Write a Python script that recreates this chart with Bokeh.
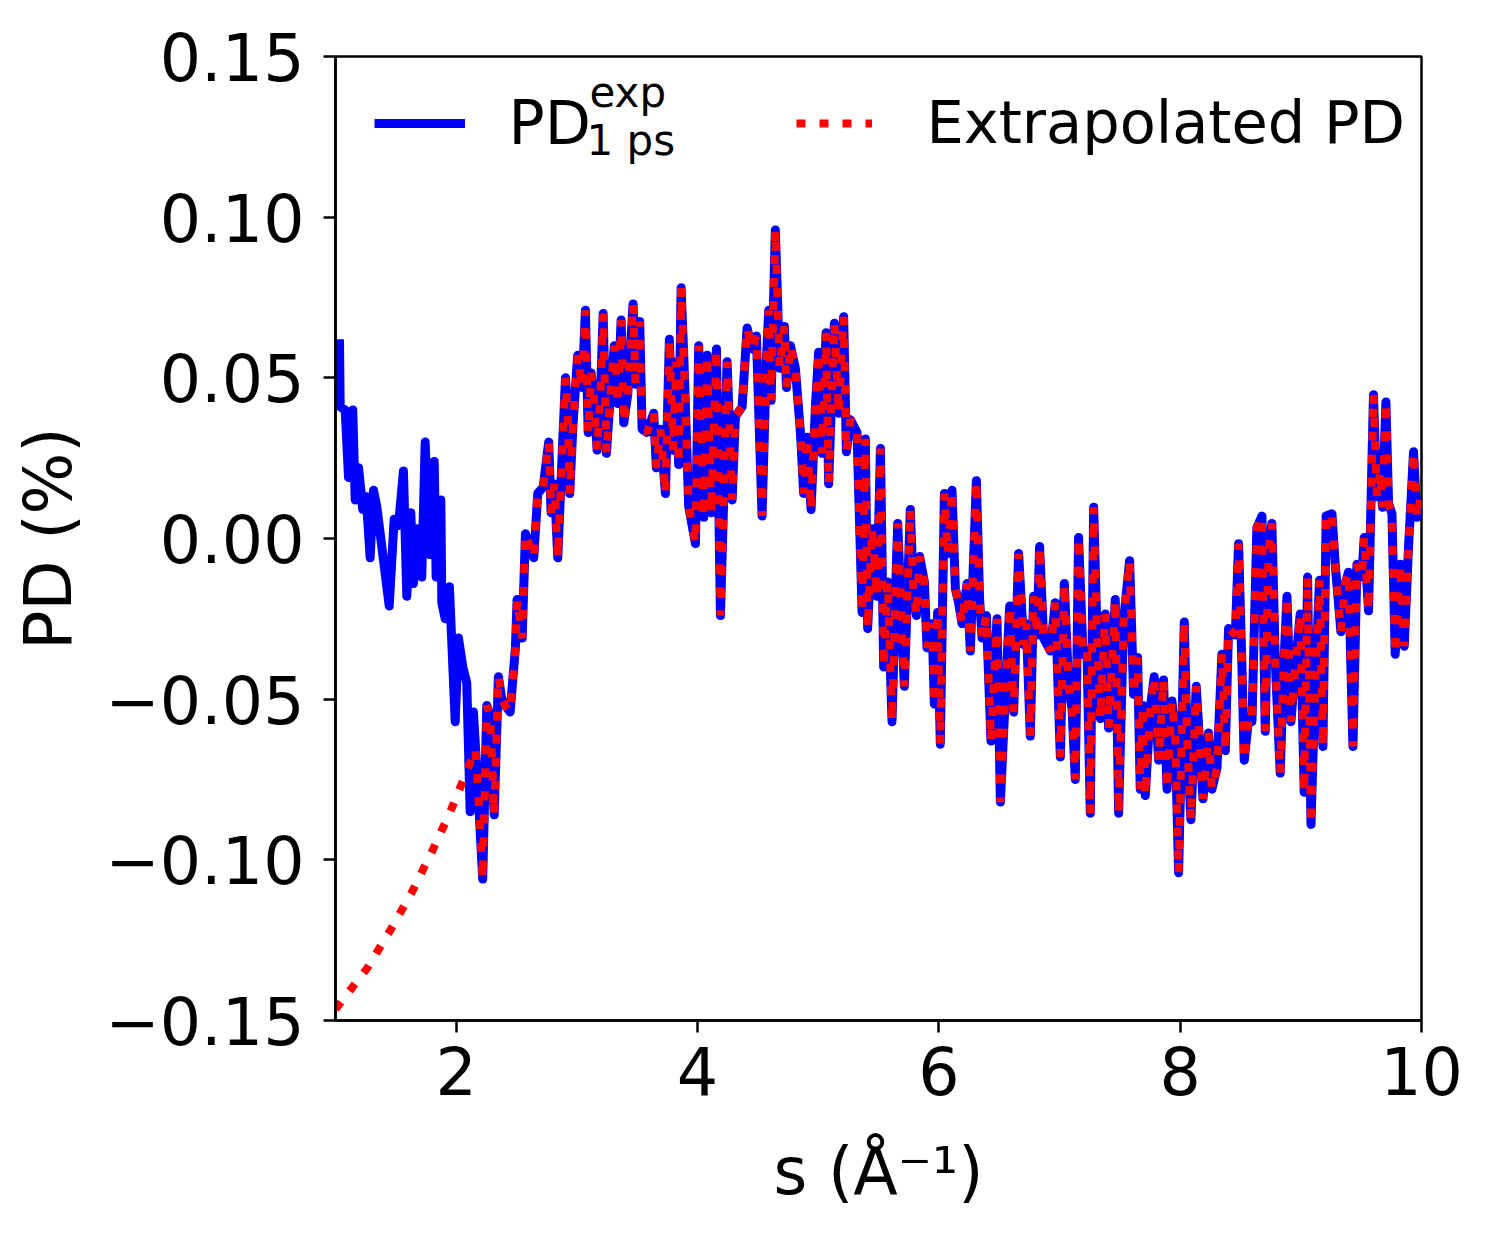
from bokeh.plotting import figure
from bokeh.models import Range1d, FixedTicker, CustomJSTickFormatter, Label, Legend, LegendItem
from bokeh.embed import file_html
from bokeh.resources import INLINE

# ---- data ----
s_exp = [1.033, 1.039, 1.080, 1.108, 1.143, 1.163, 1.191, 1.226, 1.254, 1.287, 1.315, 1.342, 1.392, 1.445,
         1.486, 1.522, 1.563, 1.591, 1.624, 1.646, 1.674, 1.715, 1.743, 1.779, 1.818, 1.834, 1.873, 1.881,
         1.909, 1.944, 1.992, 2.019, 2.055, 2.088, 2.116, 2.143, 2.176, 2.220, 2.254, 2.282, 2.315, 2.350,
         2.378, 2.406, 2.447,
         2.491, 2.505, 2.547, 2.574, 2.616, 2.643, 2.676, 2.721, 2.767, 2.787, 2.814, 2.842, 2.870, 2.906,
         2.925, 2.941, 2.969, 3.007, 3.044, 3.071, 3.094, 3.118, 3.146, 3.168, 3.196, 3.218, 3.245, 3.278,
         3.311, 3.339, 3.367, 3.389, 3.422, 3.466, 3.486, 3.521, 3.541, 3.582, 3.637, 3.659, 3.693, 3.734,
         3.767, 3.798, 3.825, 3.844, 3.864, 3.886, 3.927,
         3.983, 4.010, 4.051, 4.080, 4.113, 4.157, 4.190, 4.217, 4.245, 4.287, 4.314, 4.370, 4.411, 4.452,
         4.488, 4.535, 4.571, 4.590, 4.610, 4.645, 4.681, 4.720, 4.737, 4.770, 4.811, 4.853, 4.880, 4.908,
         4.941, 4.977, 5.004, 5.032, 5.065, 5.087, 5.107, 5.134, 5.170, 5.211, 5.234, 5.267, 5.322, 5.364,
         5.391, 5.410,
         5.447, 5.488, 5.516, 5.543, 5.576, 5.612, 5.640, 5.659, 5.687, 5.714, 5.764, 5.786, 5.814, 5.841,
         5.880, 5.902, 5.944, 5.963, 5.990, 6.012, 6.046, 6.073, 6.109, 6.137, 6.164, 6.192, 6.234, 6.261,
         6.311, 6.338, 6.358, 6.394, 6.432, 6.482, 6.510, 6.551, 6.587, 6.620, 6.661, 6.703, 6.725, 6.758,
         6.785, 6.814, 6.835, 6.868, 6.924,
         6.965, 7.007, 7.040, 7.075, 7.104, 7.131, 7.158, 7.195, 7.228, 7.255, 7.283, 7.311, 7.338, 7.379,
         7.407, 7.462, 7.490, 7.531, 7.581, 7.614, 7.647, 7.669, 7.690, 7.711, 7.752, 7.785, 7.821, 7.862,
         7.891, 7.932, 7.959, 7.987, 8.034, 8.056, 8.089, 8.133, 8.189, 8.235, 8.263, 8.305, 8.346, 8.374,
         8.401,
         8.457, 8.484, 8.512, 8.531, 8.567, 8.595, 8.636, 8.678, 8.705, 8.732, 8.760, 8.788, 8.829, 8.857,
         8.885, 8.918, 8.954, 8.995, 9.028, 9.056, 9.084, 9.119, 9.155, 9.183, 9.210, 9.258, 9.285, 9.332,
         9.368, 9.395, 9.432, 9.465, 9.506, 9.525, 9.561, 9.602, 9.630, 9.658, 9.677, 9.705, 9.727, 9.755,
         9.782, 9.824, 9.857, 9.892, 9.934, 9.962, 9.990]

pd_exp = [0.062, 0.041, 0.040, 0.019, 0.040, 0.012, 0.022, 0.009, 0.013, -0.006, 0.015, 0.010, -0.005, -0.021,
          0.006, 0.004, 0.021, -0.018, 0.008, -0.014, 0.003, -0.012, 0.030, -0.005, 0.024, -0.012, 0.012, -0.020,
          -0.025, -0.015, -0.057, -0.031, -0.040, -0.045, -0.085, -0.054, -0.075, -0.106, -0.052, -0.055, -0.086, -0.043,
          -0.050, -0.052, -0.054,
          -0.034, -0.019, -0.031, 0.0015, -0.003, -0.006, 0.014, 0.016, 0.030, 0.008, 0.017, -0.006, 0.019, 0.050,
          0.038, 0.014, 0.036, 0.057, 0.047, 0.071, 0.033, 0.0515, 0.042, 0.0275, 0.045, 0.070, 0.0265, 0.045,
          0.060, 0.042, 0.068, 0.036, 0.045, 0.073, 0.048, 0.0675, 0.034, 0.033, 0.039, 0.022, 0.034, 0.014,
          0.062, 0.0275, 0.055, 0.023, 0.078, 0.057, 0.010,
          -0.0016, 0.060, 0.0066, 0.057, 0.008, 0.059, -0.024, 0.012, 0.055, 0.012, 0.038, 0.041, 0.0655, 0.059,
          0.063, 0.007, 0.0555, 0.071, 0.043, 0.096, 0.053, 0.066, 0.047, 0.060, 0.053, 0.033, 0.014, 0.0315,
          0.009, 0.041, 0.058, 0.0265, 0.064, 0.017, 0.039, 0.067, 0.039, 0.069, 0.027, 0.037, 0.033, -0.023,
          0.031, -0.028,
          0.003, -0.018, 0.028, -0.040, -0.0135, -0.057, -0.018, 0.0047, -0.021, -0.046, 0.009, -0.014, -0.024, -0.0056,
          -0.0135, -0.034, -0.0265, -0.0515, -0.023, -0.064, 0.014, -0.0047, 0.015, -0.0156, -0.020, -0.0265, -0.014, -0.035,
          0.018, -0.019, -0.031, -0.024, -0.063, -0.025, -0.082, -0.049, -0.021, -0.054, -0.0047, -0.033, -0.0265, -0.0615,
          -0.018, -0.030, -0.0025, -0.031, -0.035,
          -0.020, -0.068, -0.014, -0.046, -0.053, -0.075, 0.0003, -0.036, -0.035, -0.0855, 0.0097, -0.030, -0.056, -0.0235,
          -0.059, -0.019, -0.0855, -0.0256, -0.0069, -0.0485, -0.037, -0.078, -0.052, -0.080, -0.053, -0.043, -0.069, -0.044,
          -0.078, -0.0506, -0.061, -0.104, -0.026, -0.061, -0.0875, -0.046, -0.081, -0.0605, -0.078, -0.0715, -0.036, -0.066,
          -0.028,
          -0.030, -0.0016, -0.040, -0.069, -0.056, -0.057, 0.0035, 0.007, -0.060, -0.0037, 0.0047, -0.038, -0.073, -0.041,
          -0.018, -0.057, -0.040, -0.0235, -0.079, -0.012, -0.089, -0.045, -0.013, -0.0647, 0.007, 0.0077, -0.008, -0.029,
          -0.014, -0.0105, -0.0647, -0.008, -0.012, 0.0003, -0.0225, 0.0447, 0.013, 0.021, 0.0097, 0.0425, 0.011, 0.0077,
          -0.036, -0.008, -0.0335, -0.003, 0.027, 0.0066, 0.012]

# extrapolated low-s part of the red curve
s_extrap = [1.000, 1.263, 1.456, 1.635, 1.800, 1.953, 2.091, 2.160]
pd_extrap = [-0.1465, -0.1337, -0.1218, -0.1099, -0.0974, -0.0849, -0.0722, -0.0655]
JOIN_S = 2.17

x_ticks = [2, 4, 6, 8, 10]
y_ticks = [-0.15, -0.10, -0.05, 0.0, 0.05, 0.10, 0.15]

red_s = s_extrap + [s for s in s_exp if s > JOIN_S]
red_pd = pd_extrap + [v for s, v in zip(s_exp, pd_exp) if s > JOIN_S]

FONT = "DejaVu Sans"

p = figure(frame_width=1086, frame_height=964,
           x_range=Range1d(1, 10), y_range=Range1d(-0.15, 0.15),
           output_backend="svg", toolbar_location=None,
           min_border_left=335, min_border_right=70, min_border_top=56, min_border_bottom=214)
p.background_fill_color = "white"
p.border_fill_color = "white"
p.grid.visible = False
p.outline_line_color = "black"
p.outline_line_width = 2.5
p.outline_line_alpha = 1.0

blue = p.line(s_exp, pd_exp, line_color="#0000ff", line_width=9, line_join="round")
red = p.line(red_s, red_pd, line_color="#ff0000", line_width=8, line_dash="9 14")

for ax in (p.xaxis[0], p.yaxis[0]):
    ax.axis_line_width = 2.5
    ax.axis_line_color = "black"
    ax.major_tick_line_width = 2.5
    ax.major_tick_line_color = "black"
    ax.major_tick_out = 12
    ax.major_tick_in = 0
    ax.minor_tick_line_color = None
    ax.major_label_text_font = FONT
    ax.major_label_text_font_size = "65px"
    ax.major_label_text_color = "black"
    ax.axis_label_text_font = FONT
    ax.axis_label_text_font_size = "65px"
    ax.axis_label_text_font_style = "normal"
    ax.axis_label_text_color = "black"

p.xaxis.ticker = FixedTicker(ticks=x_ticks)
p.yaxis.ticker = FixedTicker(ticks=y_ticks)
p.yaxis.formatter = CustomJSTickFormatter(code="return tick.toFixed(2).replace('-', '\\u2212');")
p.xaxis.major_label_standoff = 13
p.yaxis.major_label_standoff = 19

p.yaxis.axis_label = "PD (%)"
p.yaxis.axis_label_standoff = 16
p.xaxis.axis_label = "s (Å⁻¹)"
p.xaxis.axis_label_standoff = 36

# legend samples
common = dict(orientation="horizontal", glyph_height=20, label_width=0, label_height=20,
              label_text_font_size="1px", padding=0, margin=0, spacing=0,
              border_line_color=None, background_fill_alpha=0.0)
leg1 = Legend(items=[LegendItem(label=" ", renderers=[blue])], location=(39, 887), glyph_width=91, **common)
leg2 = Legend(items=[LegendItem(label=" ", renderers=[red])], location=(461, 887), glyph_width=76, **common)
p.add_layout(leg1)
p.add_layout(leg2)


def lab(text, x, y, size, style="normal"):
    return Label(x=x, y=y, x_units="screen", y_units="screen", text=text,
                 text_font=FONT, text_font_size=size, text_font_style=style,
                 text_baseline="alphabetic", text_align="left", text_color="black")


p.add_layout(lab("PD", 173, 898, "60px"))
p.add_layout(lab("exp", 254, 928, "42px"))
p.add_layout(lab("1 ps", 251, 880, "42px"))
p.add_layout(lab("Extrapolated PD", 591, 898, "59px"))

open("out.html", "w").write(file_html(p, INLINE))
